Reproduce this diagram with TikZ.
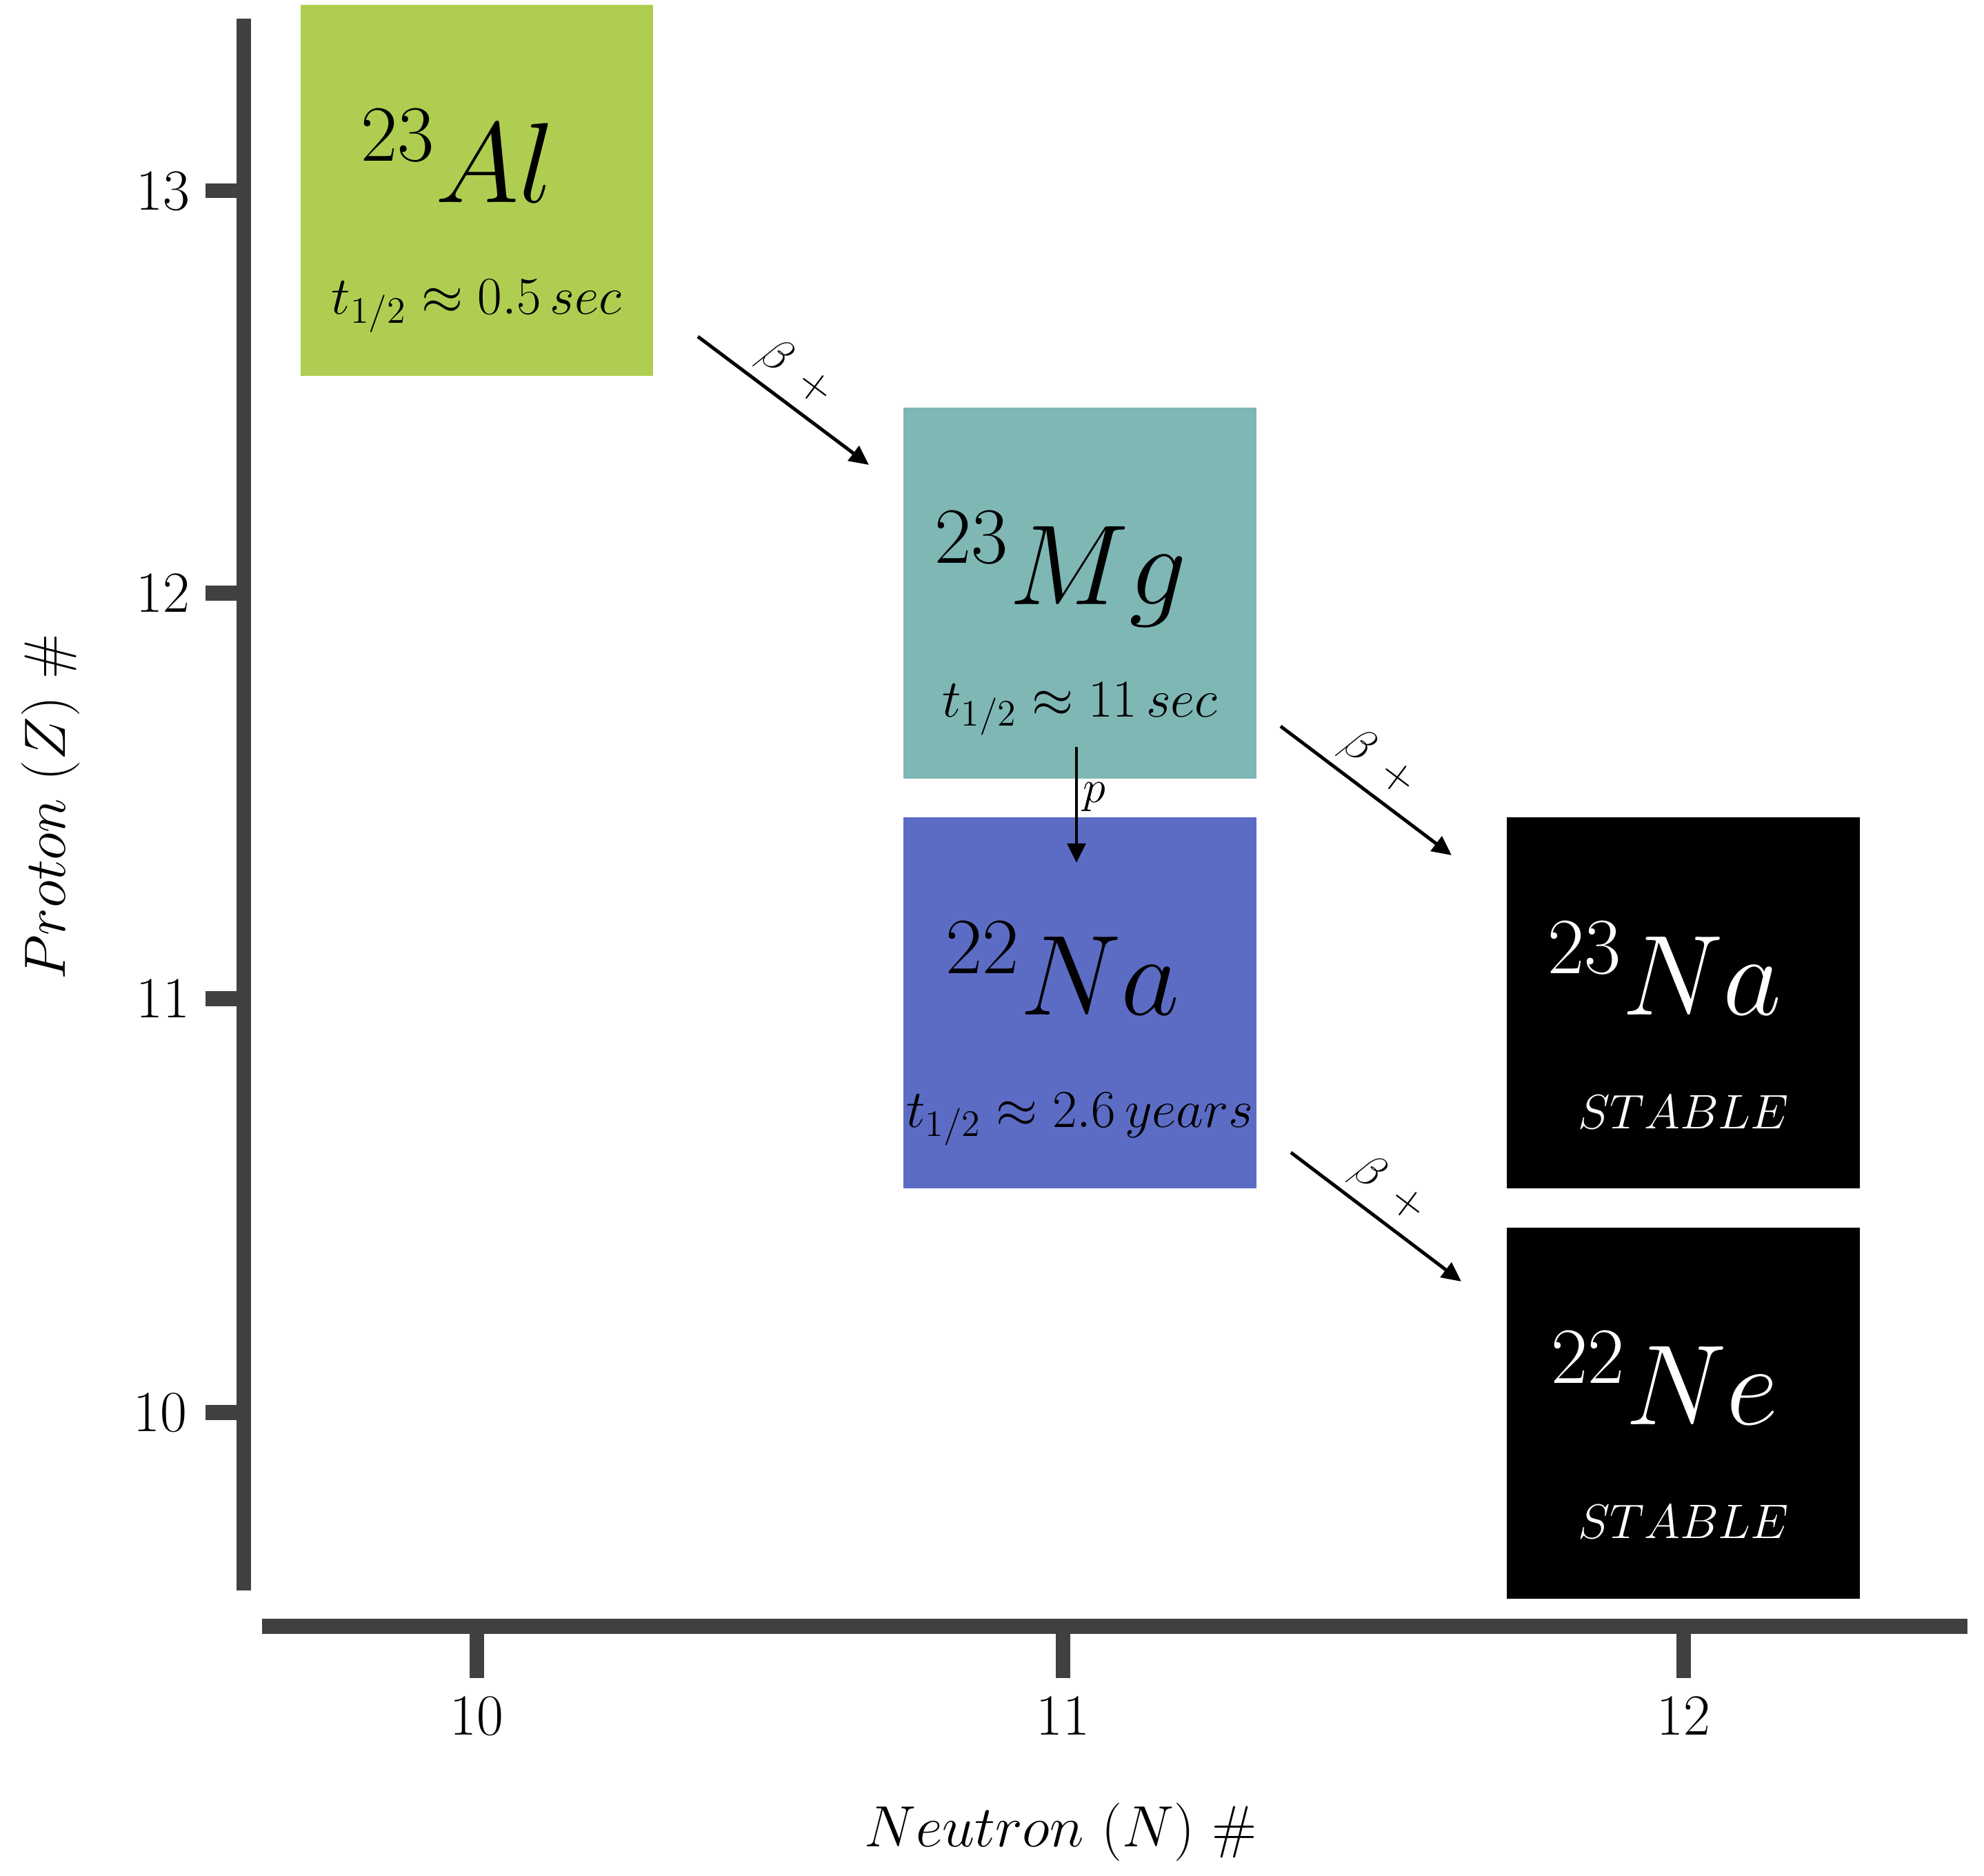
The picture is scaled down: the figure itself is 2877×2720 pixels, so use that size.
\RequirePackage{fix-cm}
\documentclass[tikz,border=0pt]{standalone}
\usetikzlibrary{arrows.meta}
\definecolor{axisgray}{RGB}{64,64,64}
\definecolor{algreen}{RGB}{175,206,81}
\definecolor{mgteal}{RGB}{127,183,181}
\definecolor{nablue}{RGB}{92,108,197}
\newcommand\fsz[1]{\fontsize{#1}{#1}\selectfont}
\begin{document}
\begin{tikzpicture}[x=0.01cm,y=-0.01cm,
  nucbox/.style={draw=none, minimum width=5.11cm, minimum height=5.37cm, inner sep=0pt},
  nuclide/.style={anchor=base, inner sep=0pt, font=\fsz{47}},
  halflife/.style={anchor=base, inner sep=0pt, font=\fsz{22}},
  stablelab/.style={anchor=base, inner sep=0pt, font=\fsz{20}, text=white},
  axisline/.style={line width=6pt, draw=axisgray},
  yticklab/.style={anchor=base east, inner sep=0pt, font=\fsz{24}},
  xticklab/.style={anchor=base, inner sep=0pt, font=\fsz{24}},
  axistitle/.style={inner sep=0pt, font=\fsz{24}},
  decay/.style={line width=1.4pt, -{Triangle[length=8pt,width=7.5pt]}},
  decaylab/.style={font=\fsz{19}, inner sep=1pt}
]
\useasboundingbox (0,0) rectangle (2877,2720);

% boxes
\node[nucbox, fill=algreen] (al) at (691.5,276) {};
\node[nucbox, fill=mgteal] (mg) at (1566,860) {};
\node[nucbox, fill=nablue] (na22) at (1566,1454) {};
\node[nucbox, fill=black] (na23) at (2441,1454) {};
\node[nucbox, fill=black] (ne22) at (2441,2049) {};

% labels in boxes
\node[nuclide] (alname) at (664,293) {$^{23}Al$};
\node[halflife] (alhl) at (691,455) {$t_{1/2}\approx 0.5\,sec$};
\node[nuclide] (mgname) at (1538,876) {$^{23}Mg$};
\node[halflife] (mghl) at (1566,1039) {$t_{1/2}\approx 11\,sec$};
\node[nuclide] (na22name) at (1541,1471) {$^{22}Na$};
\node[halflife] (na22hl) at (1566,1634) {$t_{1/2}\approx 2.6\,years$};
\node[nuclide, text=white] (na23name) at (2414,1471) {$^{23}Na$};
\node[stablelab] (na23st) at (2441,1636) {$STABLE$};
\node[nuclide, text=white] (ne22name) at (2414,2065) {$^{22}Ne$};
\node[stablelab] (ne22st) at (2441,2230) {$STABLE$};

% axes
\coordinate (ytop) at (353.5,27);
\coordinate (ybot) at (353.5,2306);
\draw[axisline] (ytop) -- (ybot);
\coordinate (xleft) at (380,2358);
\coordinate (xright) at (2853,2358);
\draw[axisline] (xleft) -- (xright);

\foreach \yy in {276.5, 860, 1448, 2048}{
  \draw[axisline] (298,\yy) -- (353.5,\yy);
}
\node[yticklab] (y13) at (276,304) {13};
\node[yticklab] (y12) at (276,887.5) {12};
\node[yticklab] (y11) at (276,1475.5) {11};
\node[yticklab] (y10) at (272,2075.5) {10};

\foreach \xx in {691.5, 1541.5, 2441.5}{
  \draw[axisline] (\xx,2358) -- (\xx,2433);
}
\node[xticklab] (x10) at (691.5,2515) {10};
\node[xticklab] (x11) at (1541.5,2515) {11};
\node[xticklab] (x12) at (2441.5,2515) {12};

\node[axistitle, anchor=base] (xtitle) at (1538,2677) {$Neutron\ (N)\ \#$};
\node[axistitle, rotate=90] (ytitle) at (73,1170) {$Proton\ (Z)\ \#$};

% decays
\coordinate (b1s) at (1012,488);
\coordinate (b1e) at (1260,674);
\draw[decay] (b1s) -- node[decaylab, sloped, above=2pt, pos=0.47] (b1lab) {$\beta\hspace{0.42em}+$} (b1e);
\coordinate (b2s) at (1857,1053);
\coordinate (b2e) at (2105,1240);
\draw[decay] (b2s) -- node[decaylab, sloped, above=2pt, pos=0.47] (b2lab) {$\beta\hspace{0.42em}+$} (b2e);
\coordinate (b3s) at (1872,1671);
\coordinate (b3e) at (2119,1858);
\draw[decay] (b3s) -- node[decaylab, sloped, above=2pt, pos=0.47] (b3lab) {$\beta\hspace{0.42em}+$} (b3e);
\coordinate (ps) at (1561,1083);
\coordinate (pe) at (1561,1251);
\draw[decay] (ps) -- node[decaylab, right=1pt, pos=0.43] (plab) {$p$} (pe);
\end{tikzpicture}
\end{document}
